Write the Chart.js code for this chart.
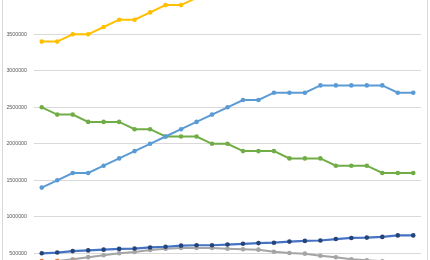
<!DOCTYPE html>
<html>
<head>
<meta charset="utf-8">
<script src="https://cdn.jsdelivr.net/npm/chart.js@4/dist/chart.umd.min.js"></script>
<style>
  html, body { margin: 0; padding: 0; background: #fff; overflow: hidden; }
  body { width: 430px; height: 260px; position: relative; }
  #wrap { position: absolute; left: 0; top: -50px; width: 430px; height: 350px; }
  #frame { position: absolute; left: 2px; top: -10px; width: 424px; height: 300px; border: 1px solid #d9d9d9; }
</style>
</head>
<body>
<div id="frame"></div>
<div id="wrap"><canvas id="chart" width="430" height="350"></canvas></div>
<script>
// categories (x axis sits below the visible crop)
const labels = ['1', '2', '3', '4', '5', '6', '7', '8', '9', '10', '11', '12', '13',
  '14', '15', '16', '17', '18', '19', '20', '21', '22', '23', '24', '25'];

const yellowSeries = [3400000, 3400000, 3500000, 3500000, 3600000, 3700000, 3700000, 3800000,
  3900000, 3900000, 4000000, 4100000, 4100000, 4200000, 4300000, 4300000, 4400000, 4400000,
  4400000, 4300000, 4200000, 4100000, 4100000, 4000000, 4000000];

const lightBlueSeries = [1400000, 1500000, 1600000, 1600000, 1700000, 1800000, 1900000, 2000000,
  2100000, 2200000, 2300000, 2400000, 2500000, 2600000, 2600000, 2700000, 2700000, 2700000,
  2800000, 2800000, 2800000, 2800000, 2800000, 2700000, 2700000];

const greenSeries = [2500000, 2400000, 2400000, 2300000, 2300000, 2300000, 2200000, 2200000,
  2100000, 2100000, 2100000, 2000000, 2000000, 1900000, 1900000, 1900000, 1800000, 1800000,
  1800000, 1700000, 1700000, 1700000, 1600000, 1600000, 1600000];

const darkBlueSeries = [500000, 510000, 530000, 540000, 550000, 560000, 565000, 580000,
  590000, 605000, 610000, 610000, 620000, 630000, 640000, 645000, 660000, 670000,
  675000, 695000, 710000, 715000, 725000, 745000, 745000];

const graySeries = [370000, 394000, 418000, 447000, 473000, 500000, 518000, 545000,
  563000, 573000, 573000, 573000, 563000, 555000, 550000, 521000, 504000, 495000,
  467000, 445000, 418000, 405000, 390000, 375000, 360000];

const orangeSeries = [395000, 395000, 385000, 375000, 365000, 355000, 345000, 335000,
  325000, 315000, 305000, 300000, 290000, 280000, 270000, 260000, 250000, 240000,
  230000, 220000, 210000, 200000, 190000, 180000, 170000];

// y axis
const yMin = 0;
const yMax = 4500000;
const yStep = 500000;

function line(label, data, color, pointColor, width) {
  return {
    label: label,
    data: data,
    borderColor: color,
    backgroundColor: pointColor,
    pointBackgroundColor: pointColor,
    pointBorderColor: pointColor,
    borderWidth: width,
    pointRadius: 2.3,
    pointBorderWidth: 0,
    tension: 0,
    fill: false
  };
}

new Chart(document.getElementById('chart'), {
  type: 'line',
  data: {
    labels: labels,
    datasets: [
      line('Series 1', darkBlueSeries, '#4472c4', '#264478', 2.2),
      line('Series 2', orangeSeries, '#ed7d31', '#ed7d31', 2),
      line('Series 3', graySeries, '#a5a5a5', '#a5a5a5', 2),
      line('Series 4', yellowSeries, '#ffc000', '#ffc000', 2),
      line('Series 5', lightBlueSeries, '#5b9bd5', '#5b9bd5', 2),
      line('Series 6', greenSeries, '#70ad47', '#70ad47', 2)
    ]
  },
  options: {
    responsive: false,
    animation: false,
    layout: { padding: { top: 11.3, bottom: 10.2, left: 0, right: 9 } },
    plugins: {
      legend: { display: false },
      tooltip: { enabled: false }
    },
    scales: {
      x: {
        display: false,
        offset: true
      },
      y: {
        min: yMin,
        max: yMax,
        afterFit: (scale) => { scale.width = 34; },
        grid: { color: '#d9d9d9', lineWidth: 1, drawTicks: false },
        border: { display: false },
        ticks: {
          stepSize: yStep,
          padding: 7,
          color: '#595959',
          font: { family: 'Liberation Sans', size: 5.3 },
          callback: (v) => String(v)
        }
      }
    }
  }
});
</script>
</body>
</html>
